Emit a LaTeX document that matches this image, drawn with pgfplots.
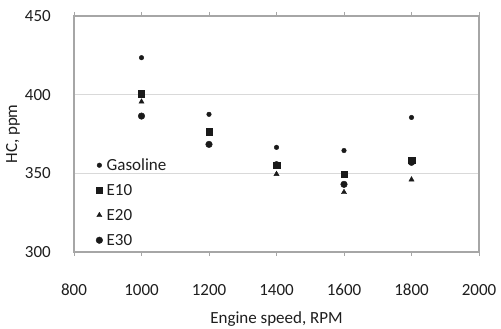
\documentclass[border=0pt]{standalone}
\usepackage{fontspec}
\setmainfont{Carlito}
\usepackage{pgfplots}
\pgfplotsset{compat=1.18}
\definecolor{axgray}{HTML}{A6A6A6}
\definecolor{grgray}{HTML}{D9D9D9}
\definecolor{mk}{HTML}{1A1A1A}
\definecolor{txt}{HTML}{1E1E1E}
\begin{document}
\begin{tikzpicture}
\begin{axis}[
  at={(0pt,0pt)}, anchor=south west,
  scale only axis, width=405pt, height=236pt,
  xmin=800, xmax=2000, ymin=300, ymax=450,
  xtick={800,1000,...,2000}, ytick={300,350,400,450},
  /pgf/number format/assume math mode=true,
  /pgf/number format/set thousands separator={},
  font=\fontsize{17}{19}\selectfont\color{txt},
  ymajorgrids, grid style={grgray, line width=1pt},
  axis line style={axgray, line width=1.2pt},
  xtick style={axgray, line width=0.8pt}, ytick style={draw=none},
  tick align=outside, major tick length=4pt,
  xticklabel style={anchor=north, inner sep=0pt, yshift=-28pt},
  yticklabel style={anchor=east, inner sep=0pt, xshift=-19pt},
  xlabel={Engine speed, RPM}, ylabel={HC, ppm},
  every axis x label/.style={at={(axis description cs:0.5,-0.303)}, anchor=base},
  every axis y label/.style={at={(axis description cs:-0.1506,0.5)}, rotate=90, anchor=center},
  legend style={at={(axis description cs:0.054,0.396)}, anchor=north west, draw=none, fill=none,
    inner sep=0pt, row sep=12pt, column sep=3pt,
    nodes={inner sep=1pt, text height=11pt, text depth=0pt},
    font=\fontsize{17}{19}\selectfont\color{txt}},
  legend cell align=left,
  legend image code/.code={\draw[mark repeat=2,mark phase=2] plot coordinates {(0pt,0pt) (4pt,0pt) (8pt,0pt)};},
]
\addplot[only marks, mark=*, mark size=2.3pt, color=mk] coordinates {
 (1000,423.5) (1200,387.5) (1400,366.5) (1600,364.5) (1800,385.5)};
\addlegendentry{Gasoline}
\addplot[only marks, mark=square*, mark size=3.2pt, color=mk] coordinates {
 (1000,400.5) (1200,376.5) (1400,355.3) (1600,349.4) (1800,358.5)};
\addlegendentry{E10}
\addplot[only marks, mark=triangle*, mark size=3pt, color=mk] coordinates {
 (1000,395.5) (1200,375.5) (1400,349.5) (1600,338) (1800,346)};
\addlegendentry{E20}
\addplot[only marks, mark=*, mark size=3.3pt, color=mk] coordinates {
 (1000,386.4) (1200,368.4) (1400,355.5) (1600,343) (1800,357)};
\addlegendentry{E30}
\end{axis}
\pgfresetboundingbox
\useasboundingbox (-74pt,-77pt) rectangle (427pt,252pt);
\end{tikzpicture}
\end{document}
